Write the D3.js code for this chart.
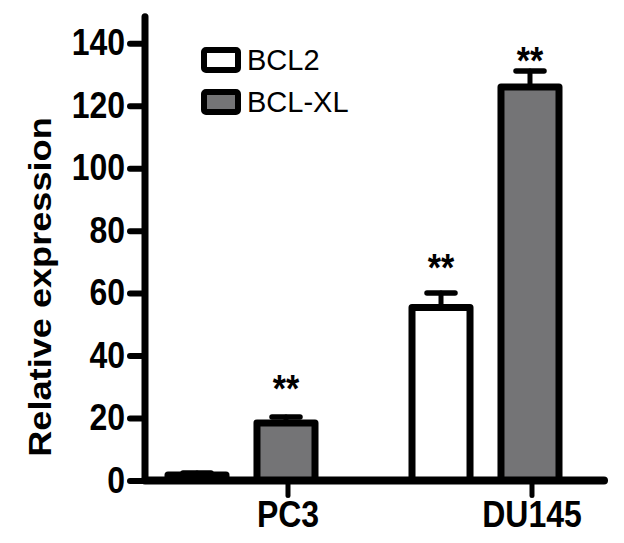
<!DOCTYPE html>
<html>
<head>
<meta charset="utf-8">
<script src="https://cdn.jsdelivr.net/npm/d3@7"></script>
<style>
  html, body { margin: 0; padding: 0; background: #fff; }
  svg { display: block; }
  text { font-family: Arial, "Liberation Sans", sans-serif; }
</style>
</head>
<body>
<svg id="chart" width="624" height="543"></svg>
<script>
// ---- data ----
const groups = ["PC3", "DU145"];
const seriesNames = ["BCL2", "BCL-XL"];
const bcl2Values = [1.8, 55.4];
const bcl2Errors = [0.6, 4.6];
const bclxlValues = [18.4, 126.0];
const bclxlErrors = [1.9, 5.1];
const yTicks = [0, 20, 40, 60, 80, 100, 120, 140];
// significance markers: [group, series, level in data units]
const sigGroups = ["PC3", "DU145", "DU145"];
const sigSeries = ["BCL-XL", "BCL2", "BCL-XL"];
const sigLevels = [29.5, 68.5, 134.5];
const sigLabels = ["**", "**", "**"];
const seriesFill = ["#ffffff", "#747476"];

// ---- build rows ----
const valuesBySeries = { "BCL2": bcl2Values, "BCL-XL": bclxlValues };
const errorsBySeries = { "BCL2": bcl2Errors, "BCL-XL": bclxlErrors };
const rows = [];
groups.forEach((g, gi) => seriesNames.forEach((s, si) => rows.push({
  group: g, series: s, si, value: valuesBySeries[s][gi], err: errorsBySeries[s][gi]
})));

const svg = d3.select("#chart");
const stretch = 1.13;

// ---- scales ----
const y = d3.scaleLinear().domain([0, 148.5]).range([480.5, 16.7]);
const x0 = d3.scalePoint().domain(groups).range([241.5, 485.5]);
const x1 = d3.scaleBand().domain(seriesNames).range([-73.5, 73.5]).paddingInner(0.348).paddingOuter(0);
const barCenter = (g, s) => x0(g) + x1(s) + x1.bandwidth() / 2;

// ---- bars ----
const barG = svg.append("g");
barG.selectAll("rect.bar").data(rows).join("rect")
  .attr("class", "bar")
  .attr("x", d => x0(d.group) + x1(d.series))
  .attr("y", d => y(d.value))
  .attr("width", x1.bandwidth())
  .attr("height", d => y(0) - y(d.value))
  .attr("fill", d => seriesFill[d.si])
  .attr("stroke", "#000")
  .attr("stroke-width", 7)
  .attr("stroke-linejoin", "round");

// ---- error bars ----
const errG = svg.append("g").attr("stroke", "#000").attr("stroke-linecap", "round");
errG.selectAll("line.stem").data(rows).join("line")
  .attr("x1", d => barCenter(d.group, d.series))
  .attr("x2", d => barCenter(d.group, d.series))
  .attr("y1", d => y(d.value))
  .attr("y2", d => y(d.value + d.err))
  .attr("stroke-width", 5);
errG.selectAll("line.cap").data(rows).join("line")
  .attr("x1", d => barCenter(d.group, d.series) - 14)
  .attr("x2", d => barCenter(d.group, d.series) + 14)
  .attr("y1", d => y(d.value + d.err))
  .attr("y2", d => y(d.value + d.err))
  .attr("stroke-width", 5.5);

// ---- y axis ----
const yAxis = d3.axisLeft(y).tickValues(yTicks).tickSize(15).tickSizeOuter(0).tickPadding(5);
const yg = svg.append("g").attr("transform", "translate(145,0)").call(yAxis);
yg.select(".domain").remove();
yg.append("line").attr("x1", 0).attr("x2", 0).attr("y1", y(148.5)).attr("y2", y(0))
  .attr("stroke", "#000").attr("stroke-width", 7).attr("stroke-linecap", "round");
yg.selectAll(".tick line").attr("stroke", "#000").attr("stroke-width", 6).attr("stroke-linecap", "round");
yg.selectAll(".tick text")
  .attr("fill", "#000")
  .style("font-size", "32px").style("font-weight", "bold")
  .attr("transform", `scale(1,${stretch})`);

// ---- x axis ----
const xg = svg.append("g");
xg.append("line").attr("x1", 145).attr("x2", 604).attr("y1", y(0)).attr("y2", y(0))
  .attr("stroke", "#000").attr("stroke-width", 8).attr("stroke-linecap", "round");
xg.selectAll("line.xt").data(groups).join("line")
  .attr("class", "xt")
  .attr("x1", g => barCenter(g, "BCL-XL") + 2)
  .attr("x2", g => barCenter(g, "BCL-XL") + 2)
  .attr("y1", y(0)).attr("y2", y(0) + 15)
  .attr("stroke", "#000").attr("stroke-width", 5).attr("stroke-linecap", "round");
xg.selectAll("text.xl").data(groups).join("text")
  .attr("class", "xl")
  .attr("transform", g => `translate(${barCenter(g, "BCL-XL") + 2},527) scale(1,${stretch})`)
  .attr("text-anchor", "middle")
  .style("font-size", "32px").style("font-weight", "bold")
  .text(g => g);

// ---- y title ----
svg.append("text")
  .attr("transform", `translate(51,287) rotate(-90) scale(${stretch},1)`)
  .attr("text-anchor", "middle")
  .style("font-size", "32px").style("font-weight", "bold")
  .text("Relative expression");

// ---- significance markers ----
svg.selectAll("text.sig").data(sigLabels).join("text")
  .attr("class", "sig")
  .attr("transform", (d, i) => `translate(${barCenter(sigGroups[i], sigSeries[i])},${y(sigLevels[i]) + 14}) scale(1,${stretch})`)
  .attr("text-anchor", "middle")
  .style("font-size", "34px").style("font-weight", "bold")
  .text(d => d);

// ---- legend ----
const leg = svg.append("g").attr("transform", "translate(204,50)");
const legItems = leg.selectAll("g").data(seriesNames).join("g")
  .attr("transform", (d, i) => `translate(0,${i * 42})`);
legItems.append("rect")
  .attr("x", 0).attr("y", 0).attr("width", 34).attr("height", 20)
  .attr("rx", 2)
  .attr("fill", (d, i) => seriesFill[i])
  .attr("stroke", "#000").attr("stroke-width", 6);
legItems.append("text")
  .attr("x", 43).attr("y", 20)
  .style("font-size", "29px")
  .text(d => d);
</script>
</body>
</html>
